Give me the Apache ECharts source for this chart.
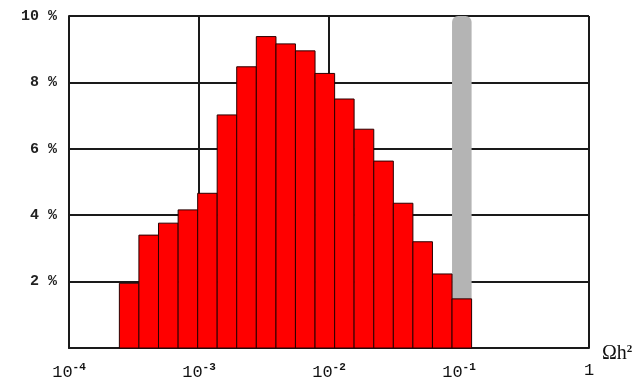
<!DOCTYPE html>
<html>
<head>
<meta charset="utf-8">
<script src="https://cdn.jsdelivr.net/npm/echarts@6/dist/echarts.min.js"></script>
<style>
html,body{margin:0;padding:0;background:#fff;}
#chart{width:643px;height:381px;}
</style>
</head>
<body>
<div id="chart"></div>
<script>
// Bin edges (factor sqrt(2) bins) on the Ωh² axis
const binEdges = [0.000244, 0.000345, 0.000488, 0.000691, 0.000977, 0.00138, 0.00195, 0.00276,
  0.00391, 0.00552, 0.00781, 0.01105, 0.0156, 0.0221, 0.03125, 0.0442, 0.0625, 0.0884, 0.125];
// Percentage per bin
const binPercent = [1.95, 3.40, 3.76, 4.16, 4.66, 7.02, 8.47, 9.38, 9.16, 8.95,
  8.27, 7.50, 6.59, 5.63, 4.36, 3.20, 2.23, 1.48];
// Gray highlighted band [lo, hi, top]
const bandRange = [0.0884, 0.125, 10];
// Tick labels
const xTickValues = [1e-4, 1e-3, 1e-2, 1e-1, 1];
const xTickExps = ['-4', '-3', '-2', '-1', ''];
const yTickValues = [2, 4, 6, 8, 10];
const yTickLabels = ['2 %', '4 %', '6 %', '8 %', '10 %'];

const barData = binPercent.map((v, i) => [binEdges[i], binEdges[i + 1], v]);

function rectItem(params, api, style, r) {
  const p0 = api.coord([api.value(0), 0]);
  const p1 = api.coord([api.value(1), api.value(2)]);
  const shape = { x: p0[0], y: p1[1], width: p1[0] - p0[0], height: p0[1] - p1[1] };
  if (r) shape.r = r;
  return { type: 'rect', shape: shape, style: style };
}

const chart = echarts.init(document.getElementById('chart'), null, { renderer: 'canvas' });
const lineCol = '#1a1a1a';
chart.setOption({
  animation: false,
  backgroundColor: '#fff',
  grid: { left: 69, right: 54, top: 16, bottom: 33, containLabel: false },
  xAxis: {
    type: 'log', logBase: 10, min: 1e-4, max: 1,
    name: '{a|Ωh}{s|2}',
    nameLocation: 'end', nameGap: 13,
    nameTextStyle: {
      padding: [12, 0, 0, 0],
      rich: {
        a: { fontFamily: 'Liberation Serif', fontSize: 20, color: '#111' },
        s: { fontFamily: 'Liberation Serif', fontSize: 11, color: '#111', fontWeight: 'bold', padding: [0, 0, 10, 0] }
      }
    },
    axisLine: { show: true, lineStyle: { color: lineCol, width: 2 } },
    axisTick: { show: false },
    splitLine: { show: true, lineStyle: { color: lineCol, width: 2 } },
    minorTick: { show: false },
    axisLabel: {
      margin: 14,
      formatter: function (val) {
        let idx = -1;
        for (let i = 0; i < xTickValues.length; i++) {
          if (Math.abs(Math.log10(val) - Math.log10(xTickValues[i])) < 1e-6) idx = i;
        }
        if (idx < 0) return '';
        if (xTickExps[idx] === '') return '{b|1}';
        return '{b|10}{s|' + xTickExps[idx] + '}';
      },
      rich: {
        b: { fontFamily: 'Liberation Mono', fontSize: 17, color: '#111' },
        s: { fontFamily: 'Liberation Mono', fontSize: 11, color: '#111', fontWeight: 'bold', padding: [0, 0, 9, 0] }
      }
    }
  },
  yAxis: {
    type: 'value', min: 0, max: 10, interval: 2,
    axisLine: { show: true, lineStyle: { color: lineCol, width: 2 } },
    axisTick: { show: false },
    splitLine: { show: true, lineStyle: { color: lineCol, width: 2 } },
    axisLabel: {
      margin: 12,
      fontFamily: 'Liberation Mono', fontSize: 15, fontWeight: 'bold', color: '#222',
      formatter: function (val) {
        const i = yTickValues.indexOf(val);
        return i >= 0 ? yTickLabels[i] : '';
      }
    }
  },
  series: [
    {
      type: 'custom',
      data: [bandRange],
      encode: { x: [0, 1], y: 2 },
      renderItem: function (params, api) {
        return rectItem(params, api, { fill: '#b4b4b4' }, [6, 6, 0, 0]);
      },
      z: 2
    },
    {
      type: 'custom',
      data: barData,
      encode: { x: [0, 1], y: 2 },
      renderItem: function (params, api) {
        return rectItem(params, api, { fill: '#ff0000', stroke: '#2a0000', lineWidth: 1 });
      },
      z: 3
    }
  ]
});
</script>
</body>
</html>
